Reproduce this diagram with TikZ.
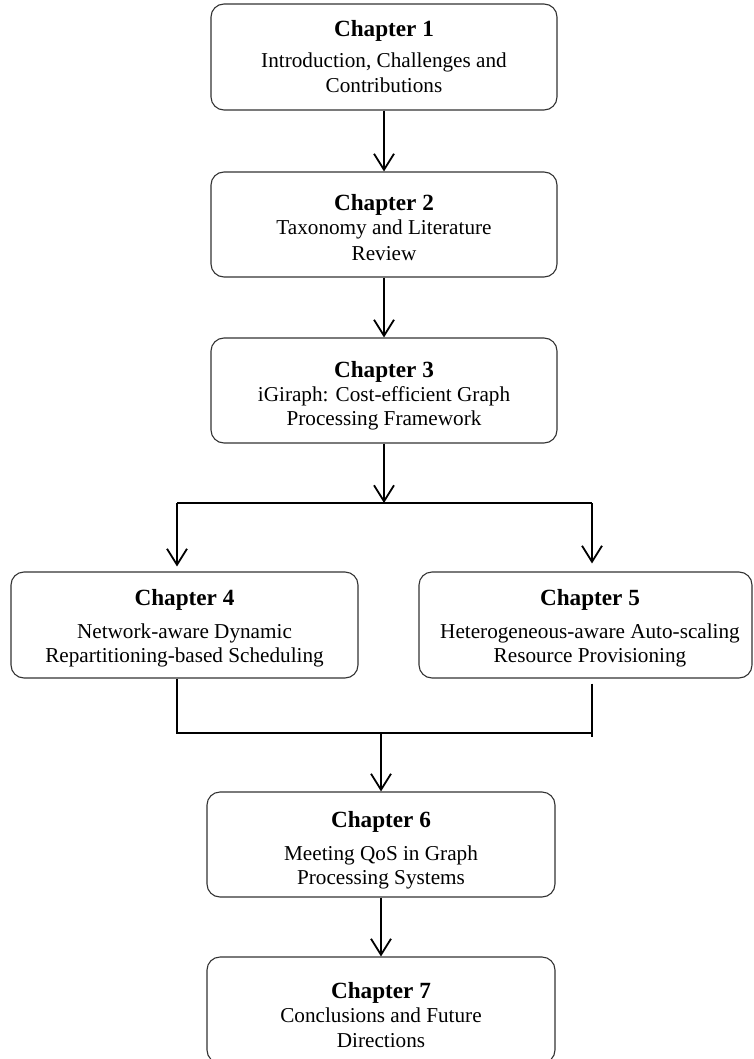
\documentclass[tikz,border=0pt]{standalone}
\usepackage{fontspec}
\setmainfont{Liberation Serif}
\usetikzlibrary{arrows.meta,calc}

\begin{document}
\begin{tikzpicture}[x=1pt,y=-1pt,
  chapbox/.style={draw=black!80, line width=1.1pt, rounded corners=13pt, inner sep=0pt},
  ttl/.style={anchor=base, inner sep=0pt, font=\bfseries\fontsize{23.2}{26}\selectfont},
  txt/.style={anchor=base, inner sep=0pt, font=\fontsize{21.2}{24.5}\selectfont},
  link/.style={line width=1.8pt, draw=black},
  arr/.style={link, -{Straight Barb[length=16pt, width=20pt, line width=1.8pt]}}
]
\useasboundingbox (0,0) rectangle (754,1059);
\clip (0,0) rectangle (754,1059);

% chapter boxes
\node[chapbox, minimum width=346pt, minimum height=106pt] (c1) at (384,57) {};
\node[chapbox, minimum width=346pt, minimum height=105pt] (c2) at (384,224.5) {};
\node[chapbox, minimum width=346pt, minimum height=105pt] (c3) at (384,390.5) {};
\node[chapbox, minimum width=347pt, minimum height=106pt] (c4) at (184.5,625) {};
\node[chapbox, minimum width=333pt, minimum height=106pt] (c5) at (585.5,625) {};
\node[chapbox, minimum width=348pt, minimum height=105pt] (c6) at (381,844.5) {};
\node[chapbox, minimum width=348pt, minimum height=106pt] (c7) at (381,1010) {};

% box texts
\node[ttl] (c1t) at (384,37) {Chapter 1};
\node[txt] (c1a) at (384,68) {Introduction, Challenges and};
\node[txt] (c1b) at (384,93) {Contributions};

\node[ttl] (c2t) at (384,211) {Chapter 2};
\node[txt] (c2a) at (384,235) {Taxonomy and Literature};
\node[txt] (c2b) at (384,260) {Review};

\node[ttl] (c3t) at (384,377) {Chapter 3};
\node[txt] (c3a) at (384,401) {iGiraph: Cost-efficient Graph};
\node[txt] (c3b) at (384,425) {Processing Framework};

\node[ttl] (c4t) at (184.5,605) {Chapter 4};
\node[txt] (c4a) at (184.5,638) {Network-aware Dynamic};
\node[txt] (c4b) at (184.5,662) {Repartitioning-based Scheduling};

\node[ttl] (c5t) at (590,605) {Chapter 5};
\node[txt] (c5a) at (590,638) {Heterogeneous-aware Auto-scaling};
\node[txt] (c5b) at (590,662) {Resource Provisioning};

\node[ttl] (c6t) at (381,827) {Chapter 6};
\node[txt] (c6a) at (381,860) {Meeting QoS in Graph};
\node[txt] (c6b) at (381,884) {Processing Systems};

\node[ttl] (c7t) at (381,998) {Chapter 7};
\node[txt] (c7a) at (381,1022) {Conclusions and Future};
\node[txt] (c7b) at (381,1047) {Directions};

% connectors
\draw[arr] (c1.south) -- (c2.north);
\draw[arr] (c2.south) -- (c3.north);

\coordinate (sl) at (177,503);
\coordinate (sr) at (592,503);
\draw[arr] (c3.south) -- (c3.south |- sl);
\draw[link] (sl) -- (sr);
\draw[arr] (sl) -- ($(sl |- c4.north)+(0,-5)$);
\draw[arr] (sr) -- ($(sr |- c5.north)+(0,-8)$);

\coordinate (jl) at (177,733);
\coordinate (jr) at (592,733);
\draw[link] (c4.south -| jl) -- (jl) -- (jr);
\draw[link] ($(c5.south -| jr)+(0,5)$) -- ($(jr)+(0,4)$);
\draw[arr] (c6.north |- jl) -- (c6.north);
\draw[arr] (c6.south) -- (c7.north);
\end{tikzpicture}
\end{document}
